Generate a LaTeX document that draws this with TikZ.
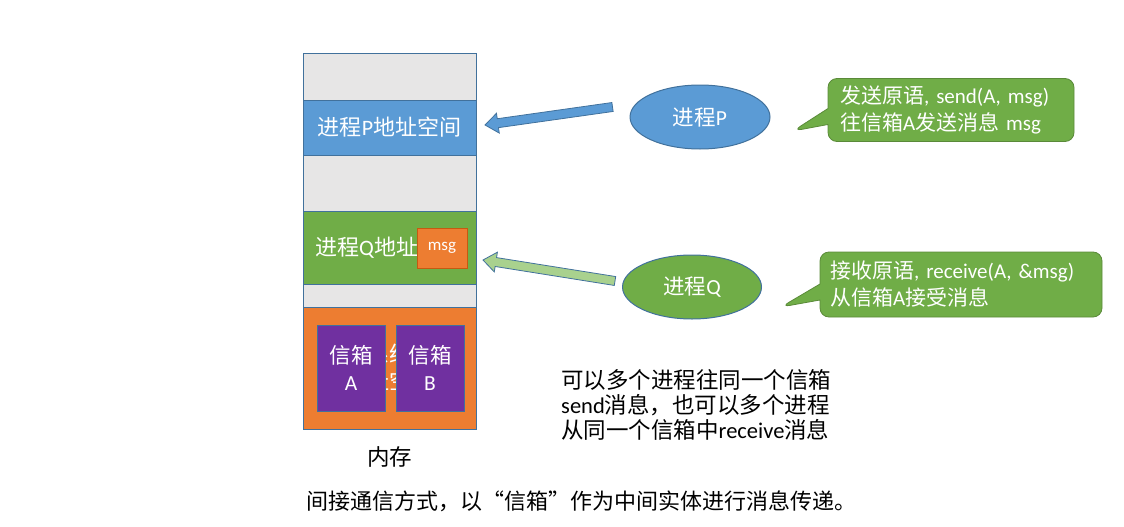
\documentclass[tikz,border=0pt]{standalone}
\usepackage{fontspec}
\setmainfont{Noto Sans CJK SC}
\newfontfamily\lat{Carlito}
\usetikzlibrary{positioning,calc,shapes.geometric,shapes.callouts}

\definecolor{memgray}{HTML}{E7E6E6}
\definecolor{memline}{HTML}{41719C}
\definecolor{pblue}{HTML}{5B9BD5}
\definecolor{qgreen}{HTML}{70AD47}
\definecolor{lgreen}{HTML}{A9D18E}
\definecolor{korange}{HTML}{ED7D31}
\definecolor{dorange}{HTML}{C55A11}
\definecolor{boxpurple}{HTML}{7030A0}

% block arrow from #2 to #3
\newcommand\fatarrow[3]{%
  \coordinate (fa-h) at ($(#3)!13pt!(#2)$);
  \filldraw[#1] ($(#2)!4.5pt!90:(#3)$) -- ($(fa-h)!4.5pt!90:(#3)$) -- ($(fa-h)!10pt!90:(#3)$)
    -- (#3) -- ($(fa-h)!10pt!-90:(#3)$) -- ($(fa-h)!4.5pt!-90:(#3)$) -- ($(#2)!4.5pt!-90:(#3)$) -- cycle;}

\tikzset{
  memblk/.style={draw=memline, line width=1pt, minimum width=173pt, outer sep=0pt, inner sep=0pt,
    text=white, font=\fontsize{22}{27}\selectfont, align=center},
  mailbox/.style={draw=memline, line width=1pt, fill=boxpurple, minimum width=68pt, minimum height=86pt,
    text=white, font=\fontsize{21.5}{27}\selectfont, align=center},
  proc/.style={ellipse, draw=memline, line width=1pt, inner sep=0pt, text=white,
    font=\fontsize{21.5}{26}\selectfont},
  note/.style={rectangle callout, rounded corners=9pt, fill=qgreen, draw=qgreen!80!black, line width=0.8pt,
    text=white, font=\fontsize{21}{27}\selectfont, align=left, inner sep=0pt, callout pointer width=16pt},
  plain/.style={inner sep=0pt, font=\fontsize{22.5}{25}\selectfont}
}

\begin{document}
\begin{tikzpicture}[x=1pt, y=-1pt]
\useasboundingbox (0,0) rectangle (1124,527);

% memory column
\node[memblk, fill=memgray, minimum height=46pt] (top) at (389.5,77) {};
\node[memblk, fill=pblue, minimum height=55pt, below=0pt of top] (pspace) {进程{\lat P}地址空间};
\node[memblk, fill=memgray, minimum height=56pt, below=0pt of pspace] (gap1) {};
\node[memblk, fill=qgreen, minimum height=73pt, below=0pt of gap1] (qspace) {};
\node[memblk, fill=memgray, minimum height=23pt, below=0pt of qspace] (gap2) {};
\node[memblk, fill=korange, minimum height=122pt, below=0pt of gap2] (kernel) {操作系统内核\\地址空间};
\node[inner sep=0pt, text=white, font=\fontsize{22}{27}\selectfont, anchor=west] (qlabel)
  at ($(qspace.west)+(12,0)$) {进程{\lat Q}地址};

% message in Q and the mailboxes
\node[draw=dorange, line width=1pt, fill=korange, minimum width=50pt, minimum height=40pt, text=white,
  font=\lat\fontsize{17}{20}\selectfont] (msg) at (442,248) {msg};
\node[mailbox] (boxA) at (351,368) {信箱\\{\lat A}};
\node[mailbox] (boxB) at (430,368) {信箱\\{\lat B}};
\node[plain, below=17pt of kernel] (mem) {内存};

% processes
\node[proc, fill=pblue, minimum width=140pt, minimum height=64pt] (P) at (700,117) {进程{\lat P}};
\node[proc, fill=qgreen, minimum width=139pt, minimum height=64pt] (Q) at (692,287) {进程{\lat Q}};

% arrows
\coordinate (ptail) at ($(P.west)+(-17,-10)$);
\coordinate (ptip) at ($(pspace.east)+(9,-2.5)$);
\fatarrow{fill=pblue, draw=memline, line width=0.8pt}{ptail}{ptip}
\coordinate (qtail) at ($(Q.west)+(-7,-6)$);
\coordinate (qtip) at ($(qspace.east)+(7,12.5)$);
\fatarrow{fill=lgreen, draw=memline, line width=0.8pt}{qtail}{qtip}

% primitives
\node[note, minimum width=246pt, minimum height=63pt, text width=222pt,
  callout absolute pointer={(793,131)}] (send) at (951,110)
  {发送原语{\lat , send(A, msg)}\\往信箱{\lat A}发送消息{\lat\ msg}};
\node[note, minimum width=282pt, minimum height=65pt, text width=262pt,
  callout absolute pointer={(781,307)}] (recv) at (961,284.5)
  {接收原语{\lat , receive(A, \&msg)}\\从信箱{\lat A}接受消息};

% remarks
\node[plain, anchor=west, align=left] (remark) at (561,405)
  {可以多个进程往同一个信箱\\{\lat send}消息，也可以多个进程\\从同一个信箱中{\lat receive}消息};
\node[plain, font=\fontsize{22}{24}\selectfont] (caption) at (581,501)
  {间接通信方式，以“信箱”作为中间实体进行消息传递。};

\end{tikzpicture}
\end{document}
